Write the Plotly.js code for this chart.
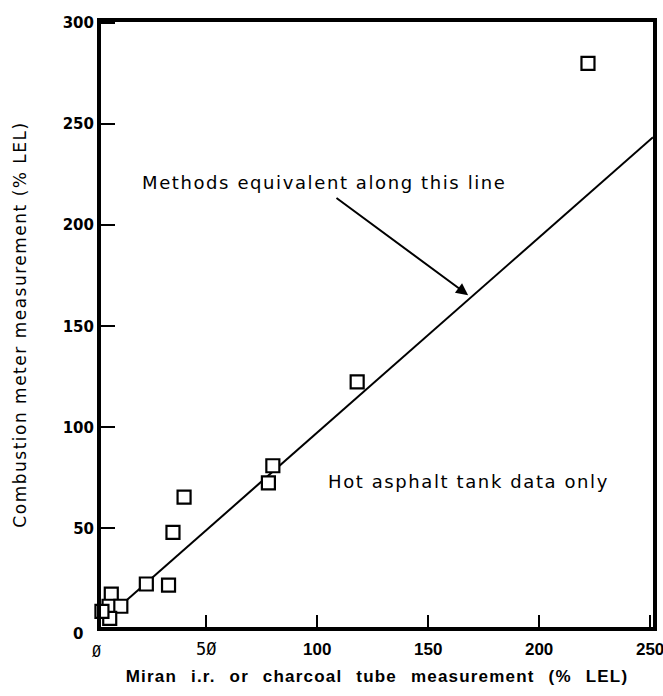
<!DOCTYPE html>
<html>
<head>
<meta charset="utf-8">
<script src="https://cdn.plot.ly/plotly-3.0.1.min.js"></script>
<style>
html,body{margin:0;padding:0;background:#fff;}
#chart{width:663px;height:696px;}
.xtitle{letter-spacing:1.2px;word-spacing:8px;}
.ytitle{letter-spacing:1.5px;}
.annotation-text{letter-spacing:1.6px;}
</style>
</head>
<body>
<div id="chart"></div>
<script>
// Measured points (Miran i.r. / charcoal tube vs combustion meter, % LEL)
const pointsX = [222, 118, 80, 78, 40, 35, 23, 33, 7.2, 6.2, 11.5, 6.5, 3];
const pointsY = [280, 122.5, 81, 72.5, 65.5, 48, 22.5, 22, 17.5, 11.5, 11.5, 5.5, 9];
// Line of equivalence
const lineX = [10, 251.3];
const lineY = [10.5, 243.5];
// Tick values / labels
const xTickVals = [50, 100, 150, 200, 250];
const xTickText = ['<span style="font-family:\'DejaVu Sans Mono\';font-weight:normal">5Ø</span>', '100', '150', '200', '250'];
const yTickVals = [50, 100, 150, 200, 250, 300];
const yTickText = ['50', '100', '150', '200', '250', '300'];

const traces = [
  {
    x: lineX, y: lineY, mode: 'lines', type: 'scatter',
    line: {color: '#000', width: 2}, hoverinfo: 'skip', showlegend: false
  },
  {
    x: pointsX, y: pointsY, mode: 'markers', type: 'scatter',
    marker: {symbol: 'square', size: 13, color: '#fff', line: {color: '#000', width: 2.2}},
    cliponaxis: false, showlegend: false
  }
];

const layout = {
  width: 663, height: 696,
  margin: {l: 101, r: 10, t: 22, b: 69},
  paper_bgcolor: '#fff', plot_bgcolor: '#fff',
  showlegend: false,
  xaxis: {
    range: [2.57, 251.3],
    tickmode: 'array', tickvals: xTickVals, ticktext: xTickText,
    ticks: 'inside', ticklen: 12, tickwidth: 2, tickcolor: '#000',
    ticklabelstandoff: 4, ticklabeloverflow: 'allow',
    showline: true, linecolor: '#000', linewidth: 4, mirror: true,
    showgrid: false, zeroline: false,
    tickfont: {family: 'Liberation Sans', size: 17, color: '#000', weight: 'bold'},
    title: {text: 'Miran i.r. or charcoal tube measurement (% LEL)',
            font: {family: 'Liberation Sans', size: 17, color: '#000', weight: 'bold'}, standoff: 13}
  },
  yaxis: {
    range: [1.24, 300.5],
    tickmode: 'array', tickvals: yTickVals, ticktext: yTickText,
    ticks: 'inside', ticklen: 14, tickwidth: 2, tickcolor: '#000',
    showline: true, linecolor: '#000', linewidth: 4, mirror: true,
    showgrid: false, zeroline: false,
    tickfont: {family: 'DejaVu Sans', size: 15, color: '#000', weight: 'bold'},
    title: {text: 'Combustion meter measurement (% LEL)',
            font: {family: 'DejaVu Sans', size: 17, color: '#000'}, standoff: 33}
  },
  annotations: [
    {x: 2.6, y: 1.3, xref: 'x', yref: 'y', text: 'Ø', showarrow: false, yanchor: 'top', xshift: -4, yshift: -14,
     font: {family: 'DejaVu Sans Mono', size: 15, color: '#000'}},
    {x: 2.6, y: 1.3, xref: 'x', yref: 'y', text: '0', showarrow: false, xanchor: 'right', xshift: -14, yshift: -7,
     font: {family: 'DejaVu Sans', size: 15, color: '#000', weight: 'bold'}},
    {x: 20, y: 221.3, xref: 'x', yref: 'y', text: 'Methods equivalent along this line', showarrow: false,
     xanchor: 'left', yanchor: 'middle', font: {family: 'DejaVu Sans', size: 18, color: '#000'}},
    {x: 168, y: 165.4, xref: 'x', yref: 'y', axref: 'x', ayref: 'y', ax: 108, ay: 214, text: '',
     showarrow: true, arrowhead: 2, arrowsize: 1.2, arrowwidth: 2, arrowcolor: '#000'},
    {x: 104, y: 73.4, xref: 'x', yref: 'y', text: 'Hot asphalt tank data only', showarrow: false,
     xanchor: 'left', yanchor: 'middle', font: {family: 'DejaVu Sans', size: 18, color: '#000'}}
  ]
};

Plotly.newPlot('chart', traces, layout, {displayModeBar: false, staticPlot: true});
</script>
</body>
</html>
